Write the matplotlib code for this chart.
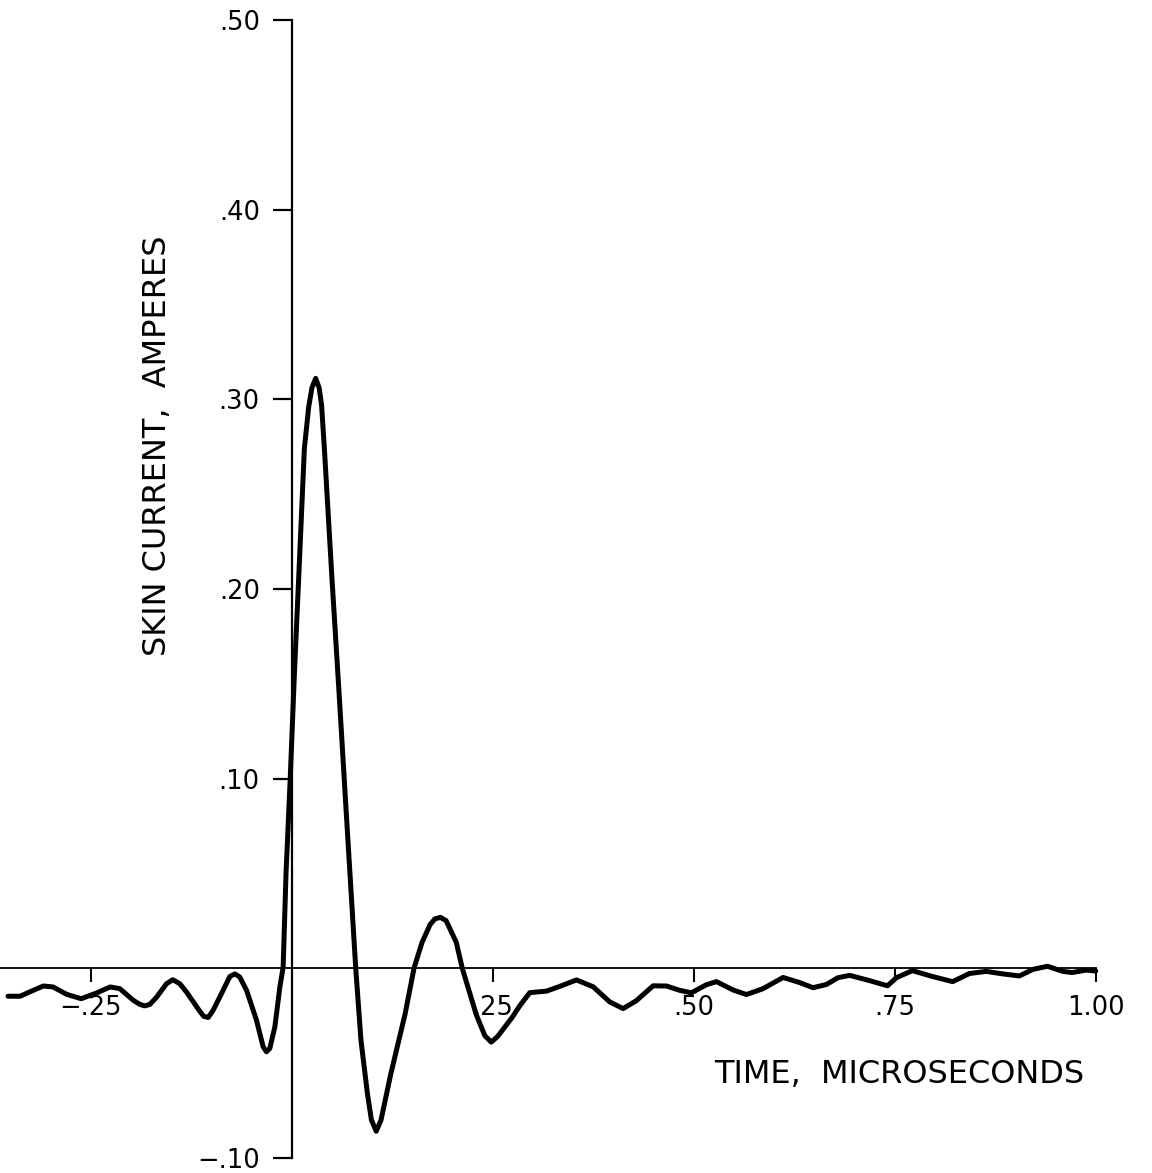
import matplotlib
matplotlib.use("Agg")
import matplotlib.pyplot as plt

# skin current vs time
time_us = [-0.353, -0.338, -0.326, -0.309, -0.297, -0.280, -0.262, -0.243, -0.226, -0.214,
           -0.197, -0.189, -0.183, -0.1766, -0.168, -0.1559, -0.148, -0.1393, -0.131, -0.114,
           -0.1095, -0.104, -0.0979, -0.0896, -0.0771, -0.0709, -0.0647, -0.0563, -0.0439, -0.0357,
           -0.0315, -0.0274, -0.0211, -0.0149, -0.0108, -0.0072, -0.002, 0.0035, 0.009, 0.0156,
           0.021, 0.025, 0.0297, 0.034, 0.037, 0.0405, 0.050, 0.0585, 0.067, 0.0795,
           0.086, 0.094, 0.099, 0.105, 0.111, 0.123, 0.141, 0.152, 0.162, 0.172,
           0.178, 0.185, 0.192, 0.2046, 0.212, 0.2295, 0.240, 0.248, 0.256, 0.265,
           0.274, 0.2836, 0.296, 0.3168, 0.3333, 0.3541, 0.3748, 0.3955, 0.4121, 0.4287,
           0.4494, 0.466, 0.4826, 0.4971, 0.5158, 0.5282, 0.5489, 0.5655, 0.5862, 0.6111,
           0.6318, 0.6484, 0.665, 0.6795, 0.694, 0.719, 0.741, 0.752, 0.772, 0.797,
           0.822, 0.843, 0.864, 0.884, 0.905, 0.922, 0.940, 0.959, 0.971, 0.988,
           1.000]
current_a = [-0.0148, -0.0148, -0.0125, -0.0094, -0.0099, -0.0138, -0.0161, -0.0131, -0.0099, -0.0108,
             -0.0170, -0.0191, -0.0199, -0.0191, -0.0152, -0.0082, -0.0061, -0.0082, -0.0126, -0.0230,
             -0.0254, -0.0260, -0.0222, -0.0152, -0.0044, -0.0030, -0.0047, -0.0117, -0.0275, -0.0414,
             -0.0441, -0.0423, -0.0310, -0.0100, 0.0005, 0.05, 0.10, 0.158, 0.21, 0.274,
             0.296, 0.306, 0.311, 0.306, 0.297, 0.274, 0.205, 0.147, 0.087, 0.0,
             -0.038, -0.066, -0.080, -0.086, -0.080, -0.056, -0.024, 0.0, 0.0136, 0.0230,
             0.0260, 0.0268, 0.0250, 0.0136, 0.0, -0.0246, -0.0355, -0.039, -0.036, -0.031,
             -0.026, -0.0198, -0.0129, -0.0121, -0.0096, -0.0062, -0.0098, -0.0178, -0.0213, -0.0171,
             -0.0093, -0.0094, -0.0117, -0.0130, -0.0087, -0.0071, -0.0115, -0.0139, -0.0108, -0.0049,
             -0.0076, -0.0103, -0.0086, -0.0050, -0.0038, -0.0066, -0.0093, -0.0050, -0.0013, -0.0044,
             -0.0071, -0.0028, -0.0017, -0.0030, -0.0041, -0.0006, 0.0010, -0.0017, -0.0023, -0.0010,
             -0.0015]

x_ticks = [-0.25, 0.25, 0.50, 0.75, 1.00]
x_labels = ["\u2212.25", ".25", ".50", ".75", "1.00"]
y_ticks = [-0.10, 0.10, 0.20, 0.30, 0.40, 0.50]
y_labels = ["\u2212.10", ".10", ".20", ".30", ".40", ".50"]

fig = plt.figure(figsize=(11.52, 11.73), dpi=100)
ax = fig.add_axes([0, 0, 1, 1])

ax.plot(time_us, current_a, color="black", lw=3.6, solid_joinstyle="round", solid_capstyle="round")

ax.set_xlim(-0.363, 1.07)
ax.set_ylim(-0.108, 0.5105)

# axes cross at the origin, like the original plotter output
ax.spines["top"].set_visible(False)
ax.spines["right"].set_visible(False)
ax.spines["left"].set_position(("data", 0))
ax.spines["bottom"].set_position(("data", 0))
ax.spines["left"].set_bounds(-0.10, 0.50)
ax.spines["bottom"].set_bounds(-0.363, 1.00)
ax.spines["left"].set_linewidth(1.6)
ax.spines["bottom"].set_linewidth(1.3)

ax.set_xticks(x_ticks)
ax.set_xticklabels(x_labels)
ax.set_yticks(y_ticks)
ax.set_yticklabels(y_labels)
ax.tick_params(axis="x", direction="out", length=10, width=1.5, labelsize=18.5, pad=9)
ax.tick_params(axis="y", direction="out", length=14, width=1.6, labelsize=18.5, pad=9)
ax.patch.set_visible(False)

ax.text(-0.1667, 0.2754, "SKIN CURRENT,  AMPERES", rotation=90, ha="center", va="center", fontsize=23)
ax.text(0.755, -0.0558, "TIME,  MICROSECONDS", ha="center", va="center", fontsize=23)

fig.savefig("out.png", dpi=100, facecolor="white")
